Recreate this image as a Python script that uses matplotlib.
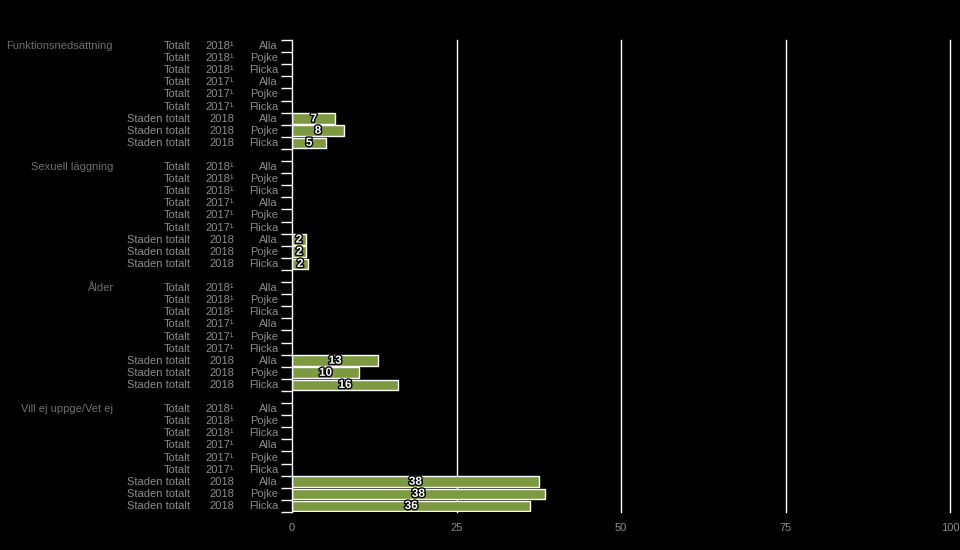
import matplotlib.pyplot as plt
import matplotlib.patheffects as pe
import matplotlib.transforms as mtransforms
import numpy as np

plt.rcParams["font.family"] = ["Liberation Sans", "DejaVu Sans"]

groups = ["Funktionsnedsättning", "Sexuell läggning", "Ålder", "Vill ej uppge/Vet ej"]
row_area = ["Totalt"] * 6 + ["Staden totalt"] * 3
row_year = ["2018¹"] * 3 + ["2017¹"] * 3 + ["2018"] * 3
row_gender = ["Alla", "Pojke", "Flicka"] * 3

# only the "Staden totalt" rows have values
staden_values = {
    "Funktionsnedsättning": [6.6, 7.9, 5.2],
    "Sexuell läggning": [2.1, 2.2, 2.5],
    "Ålder": [13.1, 10.2, 16.1],
    "Vill ej uppge/Vet ej": [37.5, 38.4, 36.2],
}
x_ticks = [0, 25, 50, 75, 100]

bar_color = "#7d9a43"
text_color = "#8c8c8c"
group_color = "#6e6e6e"


def main() -> None:
    fig = plt.figure(figsize=(9.6, 5.5), dpi=100, facecolor="black")
    ax = fig.add_axes([292 / 960, 38 / 550, 658 / 960, 472 / 550])
    ax.set_facecolor("black")

    rows_per_group = len(row_area) + 1
    n_rows = rows_per_group * len(groups) - 1

    ax.set_xlim(0, 100)
    ax.set_ylim(n_rows - 0.5, -0.5)

    for x in x_ticks[1:]:
        ax.axvline(x, color="white", lw=1, zorder=1, clip_on=False)

    label_tf = mtransforms.blended_transform_factory(fig.transFigure, ax.transData)
    fs = 8
    for g, group in enumerate(groups):
        start = g * rows_per_group
        ax.text(113 / 960, start, group, transform=label_tf, ha="right",
                va="center", color=group_color, fontsize=fs)
        for i in range(len(row_area)):
            y = start + i
            ax.text(190 / 960, y, row_area[i], transform=label_tf, ha="right",
                    va="center", color=text_color, fontsize=fs)
            ax.text(234 / 960, y, row_year[i], transform=label_tf, ha="right",
                    va="center", color=text_color, fontsize=fs)
            ax.text(278 / 960, y, row_gender[i], transform=label_tf, ha="right",
                    va="center", color=text_color, fontsize=fs)

        vals = staden_values[group]
        ys = [start + 6 + k for k in range(3)]
        ax.barh(ys, vals, height=0.88, color=bar_color, edgecolor="white",
                lw=1, zorder=2)
        for y, v in zip(ys, vals):
            ax.text(v / 2, y, f"{v:.0f}", ha="center", va="center",
                    color="white", fontsize=8.5, fontweight="bold", zorder=3,
                    path_effects=[pe.withStroke(linewidth=2, foreground="black")])

    ax.set_yticks(np.arange(-0.5, n_rows + 0.5, 1))
    ax.set_yticklabels([])
    ax.tick_params(axis="y", colors="white", length=8, width=1, direction="out")

    ax.set_xticks(x_ticks)
    ax.set_xticklabels([str(x) for x in x_ticks])
    ax.tick_params(axis="x", length=0, colors=text_color, labelsize=fs, pad=8)

    for side in ["top", "right", "bottom"]:
        ax.spines[side].set_visible(False)
    ax.spines["left"].set_color("white")
    ax.spines["left"].set_linewidth(1)

    fig.savefig("out.png", dpi=100, facecolor="black")


if __name__ == "__main__":
    main()
